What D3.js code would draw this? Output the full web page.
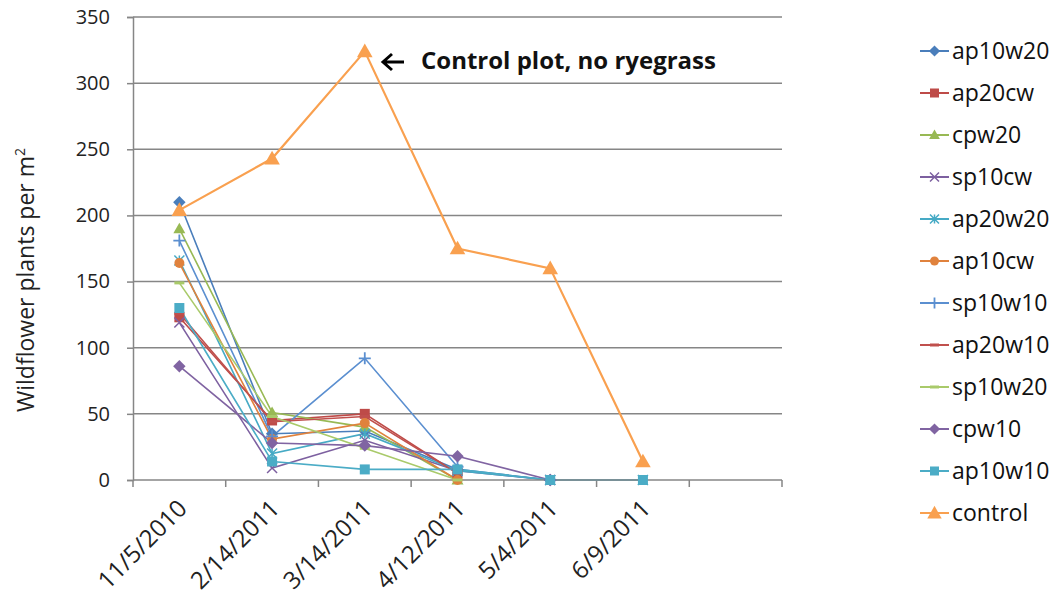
<!DOCTYPE html>
<html><head><meta charset="utf-8">
<script src="https://cdn.jsdelivr.net/npm/d3@7"></script>
<style>body{margin:0;background:#fff}svg{display:block}</style>
</head><body>
<svg id="c" width="1058" height="602"></svg>
<script>
const dates = ["11/5/2010","2/14/2011","3/14/2011","4/12/2011","5/4/2011","6/9/2011",""];
const yTicks = [0,50,100,150,200,250,300,350];
const names = ["ap10w20","ap20cw","cpw20","sp10cw","ap20w20","ap10cw","sp10w10","ap20w10","sp10w20","cpw10","ap10w10","control"];
const colors = ["#4A7EBB","#BE4B48","#98B954","#7D60A0","#46AAC5","#E0823D","#5B8FD0","#C0504D","#A9CA6A","#8064A2","#4BACC6","#F9A04F"];
const markers = ["diamond","square","triangle","x","asterisk","circle","plus","dash","dash","diamond","square","triangle"];
const ap10w20 = [210,35,37,8,0,null];
const ap20cw  = [123,45,50,5,null,null];
const cpw20   = [190,51,40,0,null,null];
const sp10cw  = [119,9,30,7,0,null];
const ap20w20 = [166,20,35,7,0,0];
const ap10cw  = [164,31,43,0,null,null];
const sp10w10 = [181,33,92,10,null,null];
const ap20w10 = [126,44,48,5,null,null];
const sp10w20 = [149,48,24,0,null,null];
const cpw10   = [86,28,26,18,0,null];
const ap10w10 = [130,14,8,8,0,0];
const control = [204,243,324,175,160,14];
const series = [ap10w20,ap20cw,cpw20,sp10cw,ap20w20,ap10cw,sp10w10,ap20w10,sp10w20,cpw10,ap10w10,control];
const annotation = "Control plot, no ryegrass";

const svg = d3.select("#c");
const font = "'Open Sans', sans-serif";
const x = d3.scaleBand().domain(dates).range([133,782]).padding(0);
const y = d3.scaleLinear().domain([0,350]).range([480,17]);
const cx = d => x(d) + x.bandwidth()/2;
const grid = "#868686";

// gridlines
svg.append("g").selectAll("line").data(yTicks.filter(t=>t>0)).join("line")
  .attr("x1",133).attr("x2",782).attr("y1",d=>y(d)).attr("y2",d=>y(d))
  .attr("stroke",grid).attr("stroke-width",1.5);

// y axis
const ya = svg.append("g").attr("transform","translate(133,0)")
  .call(d3.axisLeft(y).tickValues(yTicks).tickSize(6).tickPadding(17));
ya.select(".domain").attr("stroke",grid).attr("stroke-width",1.5);
ya.selectAll(".tick line").attr("stroke",grid).attr("stroke-width",1.5);
ya.selectAll("text").attr("font-family",font).attr("font-size",20).attr("fill","#222");

// x boundary ticks
const bounds = dates.map(d=>x(d)).concat([x.range()[1]]);
svg.append("g").selectAll("line").data(bounds).join("line")
  .attr("x1",d=>d).attr("x2",d=>d).attr("y1",480).attr("y2",487)
  .attr("stroke",grid).attr("stroke-width",1.5);

// x labels
svg.append("g").selectAll("text").data(dates.filter(d=>d)).join("text")
  .attr("transform",d=>`translate(${cx(d)+9},${510}) rotate(-45)`)
  .attr("text-anchor","end").attr("font-family",font).attr("font-size",24).attr("fill","#222")
  .text(d=>d);

// y title
const yt = svg.append("text").attr("transform","translate(34,280) rotate(-90)")
  .attr("text-anchor","middle").attr("font-family",font).attr("font-size",23).attr("fill","#222");
yt.append("tspan").text("Wildflower plants per m");
yt.append("tspan").attr("font-size",14).attr("dy",-9).text("2");

function sym(g, type, color, size) {
  const s = size;
  if (type==="diamond") g.append("path").attr("d",`M0,${-s*0.62}L${s*0.62},0L0,${s*0.62}L${-s*0.62},0Z`).attr("fill",color);
  else if (type==="square") g.append("rect").attr("x",-s/2).attr("y",-s/2).attr("width",s).attr("height",s).attr("fill",color);
  else if (type==="triangle") g.append("path").attr("d",`M0,${-s*0.6}L${s*0.6},${s*0.45}L${-s*0.6},${s*0.45}Z`).attr("fill",color);
  else if (type==="circle") g.append("circle").attr("r",s/2).attr("fill",color);
  else if (type==="x") g.append("path").attr("d",`M${-s/2},${-s/2}L${s/2},${s/2}M${-s/2},${s/2}L${s/2},${-s/2}`).attr("stroke",color).attr("stroke-width",1.5);
  else if (type==="asterisk") g.append("path").attr("d",`M${-s/2},${-s/2}L${s/2},${s/2}M${-s/2},${s/2}L${s/2},${-s/2}M0,${-s/2}L0,${s/2}`).attr("stroke",color).attr("stroke-width",1.5);
  else if (type==="plus") g.append("path").attr("d",`M${-s/2-1},0L${s/2+1},0M0,${-s/2-1}L0,${s/2+1}`).attr("stroke",color).attr("stroke-width",1.8);
  else if (type==="dash") g.append("path").attr("d",`M${-s/2},0L${s/2},0`).attr("stroke",color).attr("stroke-width",3);
}

// lines
const line = d3.line().defined(d=>d.v!==null).x(d=>cx(d.k)).y(d=>y(d.v));
series.forEach((arr,i)=>{
  const pts = arr.map((v,j)=>({k:dates[j],v}));
  svg.append("path").datum(pts).attr("d",line).attr("fill","none")
    .attr("stroke",colors[i]).attr("stroke-width",i===11?2.2:1.6);
});

// x axis domain line
svg.append("line").attr("x1",133).attr("x2",782).attr("y1",480).attr("y2",480)
  .attr("stroke",grid).attr("stroke-width",1.5);

// markers
series.forEach((arr,i)=>{
  arr.forEach((v,j)=>{
    if (v===null) return;
    const g = svg.append("g").attr("transform",`translate(${cx(dates[j])},${y(v)})`);
    sym(g, markers[i], colors[i], i===11?13:10);
  });
});

// annotation
svg.append("path").attr("d","M383,62L404,62M392,54L383,62L392,70")
  .attr("fill","none").attr("stroke","#000").attr("stroke-width",3);
svg.append("text").attr("x",421).attr("y",69).attr("font-family",font).attr("font-weight","bold")
  .attr("font-size",24).attr("fill","#111").text(annotation);

// legend
const lg = svg.append("g");
names.forEach((n,i)=>{
  const yy = 51 + i*42;
  lg.append("line").attr("x1",920).attr("x2",949).attr("y1",yy).attr("y2",yy)
    .attr("stroke",colors[i]).attr("stroke-width",2);
  const g = lg.append("g").attr("transform",`translate(934.5,${yy})`);
  sym(g, markers[i], colors[i], i===11?12:9);
  lg.append("text").attr("x",952).attr("y",yy).attr("dy","0.35em")
    .attr("font-family",font).attr("font-size",23).attr("fill","#111").text(n);
});
</script>
</body></html>
